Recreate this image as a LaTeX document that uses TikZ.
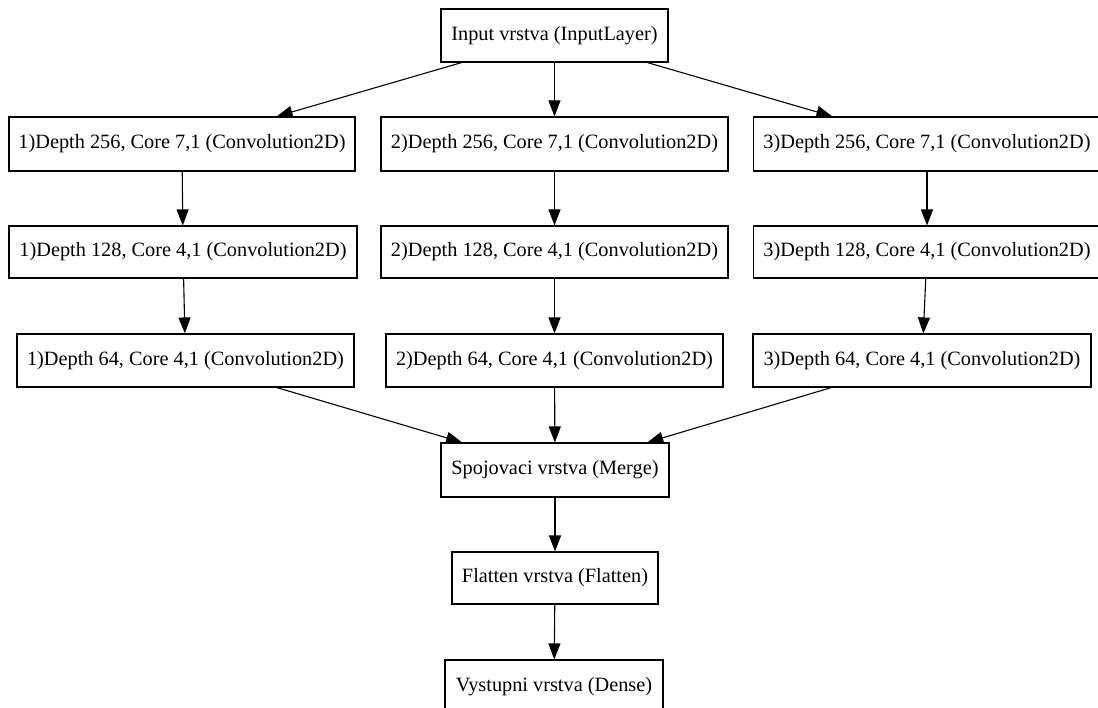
\documentclass[tikz,border=0pt]{standalone}
\usepackage{fontspec}
\setmainfont{Liberation Serif}
\usetikzlibrary{arrows.meta}
\begin{document}
\begin{tikzpicture}[x=1pt,y=-1pt,
  layer/.style={draw=black, line width=1.1pt, fill=white, minimum height=53pt,
    inner sep=0pt, font=\fontsize{20.3}{24}\selectfont},
  flow/.style={line width=1.1pt, -{Triangle[length=16pt,width=12pt]}}]
\useasboundingbox (0,0) rectangle (1098,708);

% input layer
\node[layer, minimum width=227pt] (in) at (554.5,35.5) {Input vrstva (InputLayer)};

% three convolution branches
\node[layer, minimum width=346pt, minimum height=54pt] (a1) at (182,144) {1)Depth 256, Core 7,1 (Convolution2D)};
\node[layer, minimum width=347pt, minimum height=54pt] (b1) at (554.5,144) {2)Depth 256, Core 7,1 (Convolution2D)};
\node[layer, minimum width=347pt, minimum height=54pt] (c1) at (927,144) {3)Depth 256, Core 7,1 (Convolution2D)};

\node[layer, minimum width=348pt, minimum height=52pt] (a2) at (183,252) {1)Depth 128, Core 4,1 (Convolution2D)};
\node[layer, minimum width=347pt, minimum height=52pt] (b2) at (554.5,252) {2)Depth 128, Core 4,1 (Convolution2D)};
\node[layer, minimum width=347pt, minimum height=52pt] (c2) at (927,252) {3)Depth 128, Core 4,1 (Convolution2D)};

\node[layer, minimum width=337pt] (a3) at (185.5,360.5) {1)Depth 64, Core 4,1 (Convolution2D)};
\node[layer, minimum width=337pt] (b3) at (554.5,360.5) {2)Depth 64, Core 4,1 (Convolution2D)};
\node[layer, minimum width=338pt] (c3) at (922,360.5) {3)Depth 64, Core 4,1 (Convolution2D)};

% merge and output stages
\node[layer, minimum width=228pt, minimum height=54pt] (merge) at (555,470) {Spojovaci vrstva (Merge)};
\node[layer, minimum width=206pt, minimum height=52pt] (flat) at (555,578) {Flatten vrstva (Flatten)};
\node[layer, minimum width=218pt] (out) at (554,686.5) {Vystupni vrstva (Dense)};

% connectors
\draw[flow] (in) -- (a1);
\draw[flow] (in) -- (b1);
\draw[flow] (in) -- (c1);
\draw[flow] (a1) -- (a2);
\draw[flow] (b1) -- (b2);
\draw[flow] (c1) -- (c2);
\draw[flow] (a2) -- (a3);
\draw[flow] (b2) -- (b3);
\draw[flow] (c2) -- (c3);
\draw[flow] (a3) -- (merge);
\draw[flow] (b3) -- (merge);
\draw[flow] (c3) -- (merge);
\draw[flow] (merge) -- (flat);
\draw[flow] (flat) -- (out);
\end{tikzpicture}
\end{document}
